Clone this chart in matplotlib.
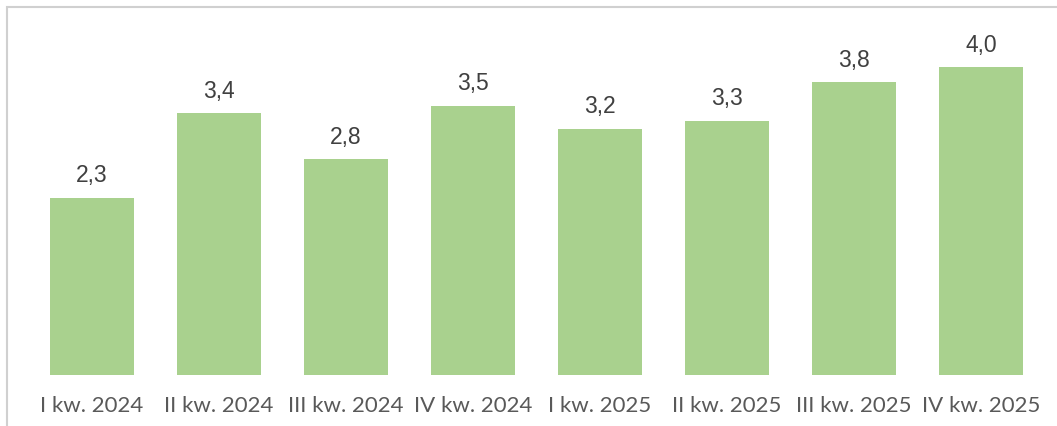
import matplotlib
matplotlib.use("Agg")
import matplotlib.pyplot as plt
from matplotlib.patches import Rectangle

categories = ["I kw. 2024", "II kw. 2024", "III kw. 2024", "IV kw. 2024",
              "I kw. 2025", "II kw. 2025", "III kw. 2025", "IV kw. 2025"]
values = [2.3, 3.4, 2.8, 3.5, 3.2, 3.3, 3.8, 4.0]

plt.rcParams['font.family'] = ['Lato', 'DejaVu Sans']

W, H = 1057, 426
fig = plt.figure(figsize=(W / 100, H / 100), dpi=100)

# axes: x from 28.5 to 1044.5 px, y from 375 (bottom) to 28.5 (top)
left, right = 28.5, 1044.5
bottom_px, top_px = 375, 28.5
ax = fig.add_axes([left / W, (H - bottom_px) / H, (right - left) / W, (bottom_px - top_px) / H])

x = list(range(len(categories)))
bars = ax.bar(x, values, width=0.66, color="#A9D18E", edgecolor="none")
ax.set_xlim(-0.5, len(categories) - 0.5)
ax.set_ylim(0, 4.5)

for xi, v in zip(x, values):
    ax.annotate(f"{v:.1f}".replace(".", ","), (xi, v), xytext=(0, 7.5),
                textcoords="offset points", ha="center", va="bottom",
                fontsize=16.5, color="#404040",
                family=["Liberation Sans", "DejaVu Sans"])

ax.set_xticks(x)
ax.set_xticklabels(categories, fontsize=16, color="#595959")
ax.tick_params(axis="x", length=0, pad=15)
ax.set_yticks([])
for s in ax.spines.values():
    s.set_visible(False)

# light gray frame (top and left edges visible)
fig.patches.append(Rectangle((7 / W, -0.1), 1.2, (H - 7) / H + 0.1, transform=fig.transFigure,
                             fill=False, edgecolor="#D0D0D0", linewidth=1.5, zorder=0))

fig.savefig("out.png", dpi=100)
